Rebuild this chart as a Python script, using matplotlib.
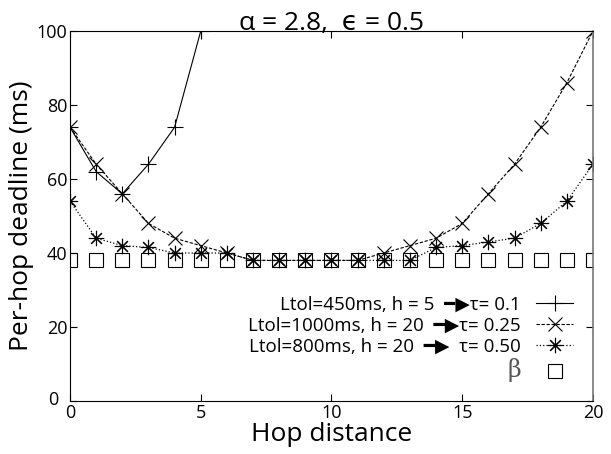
import numpy as np
import matplotlib
matplotlib.use('Agg')
import matplotlib.pyplot as plt
from matplotlib.transforms import ScaledTranslation

plt.rcParams['font.family'] = ['Open Sans', 'DejaVu Sans']

# per-hop deadline vs hop distance
hops_short = [0, 1, 2, 3, 4, 5]
tau_010 = [74, 62, 56, 64, 74, 100]

hops = list(range(21))
tau_025 = [74, 64, 56, 48, 44, 42, 40, 38, 38, 38, 38, 38, 40, 42, 44, 48, 56, 64, 74, 86, 100]
tau_050 = [54, 44, 42, 41.5, 40, 40, 40, 38, 38, 38, 38, 38, 38, 38, 41.5, 42, 43, 44, 48, 54, 64]
beta = [38] * 21

arrow = '\u2501\u25b6'
labels = ['Ltol=450ms, h = 5  ' + arrow + '\u03c4= 0.1',
          'Ltol=1000ms, h = 20  ' + arrow + '\u03c4= 0.25',
          'Ltol=800ms, h = 20  ' + arrow + '  \u03c4= 0.50',
          '\u03b2']

fig = plt.figure(figsize=(6.11, 4.54), dpi=100)
ax = fig.add_axes([0.1146, 0.1167, 0.8559, 0.815])

ax.plot(hops_short, tau_010, '-', color='k', lw=0.8, marker='+', ms=12, mew=0.8, label=labels[0])
ax.plot(hops, tau_025, '--', color='k', lw=0.8, dashes=(3, 1.5), marker='x', ms=10, mew=0.8, label=labels[1])
ax.plot(hops, tau_050, ':', color='k', lw=0.9, marker=(8, 2, 0), ms=11, mew=0.8, label=labels[2])
ax.plot(hops, beta, linestyle='none', color='k', marker='s', ms=10, mew=0.8, mfc='none', label=labels[3])

ax.set_xlim(0, 20)
ax.set_ylim(0, 100)
ax.set_xticks([0, 5, 10, 15, 20])
ax.set_yticks([0, 20, 40, 60, 80, 100])
ax.tick_params(direction='in', top=True, right=True, length=5, labelsize=13, pad=2)
ax.spines['right'].set_color('#777777')
ax.spines['right'].set_linewidth(1.2)

# nudge the y "0" away from the x "0"
zero = ax.yaxis.get_major_ticks()[0].label1
zero.set_transform(zero.get_transform() + ScaledTranslation(-0.09, 0.03, fig.dpi_scale_trans))

ax.set_xlabel('Hop distance', fontsize=19, labelpad=0)
ax.set_ylabel('Per-hop deadline (ms)', fontsize=19, labelpad=2)
ax.set_title('\u03b1 = 2.8,  \u03f5 = 0.5', fontsize=19, pad=1)

leg = ax.legend(loc='lower right', bbox_to_anchor=(0.995, 0.005), frameon=False, markerfirst=False,
                fontsize=13.5, handlelength=2.0, labelspacing=0.15, handletextpad=0.8)
beta_text = leg.get_texts()[3]
beta_text.set_color('#555555')
beta_text.set_fontsize(17)
beta_text.set_family(['DejaVu Serif'])

fig.savefig('out.png', dpi=100)
